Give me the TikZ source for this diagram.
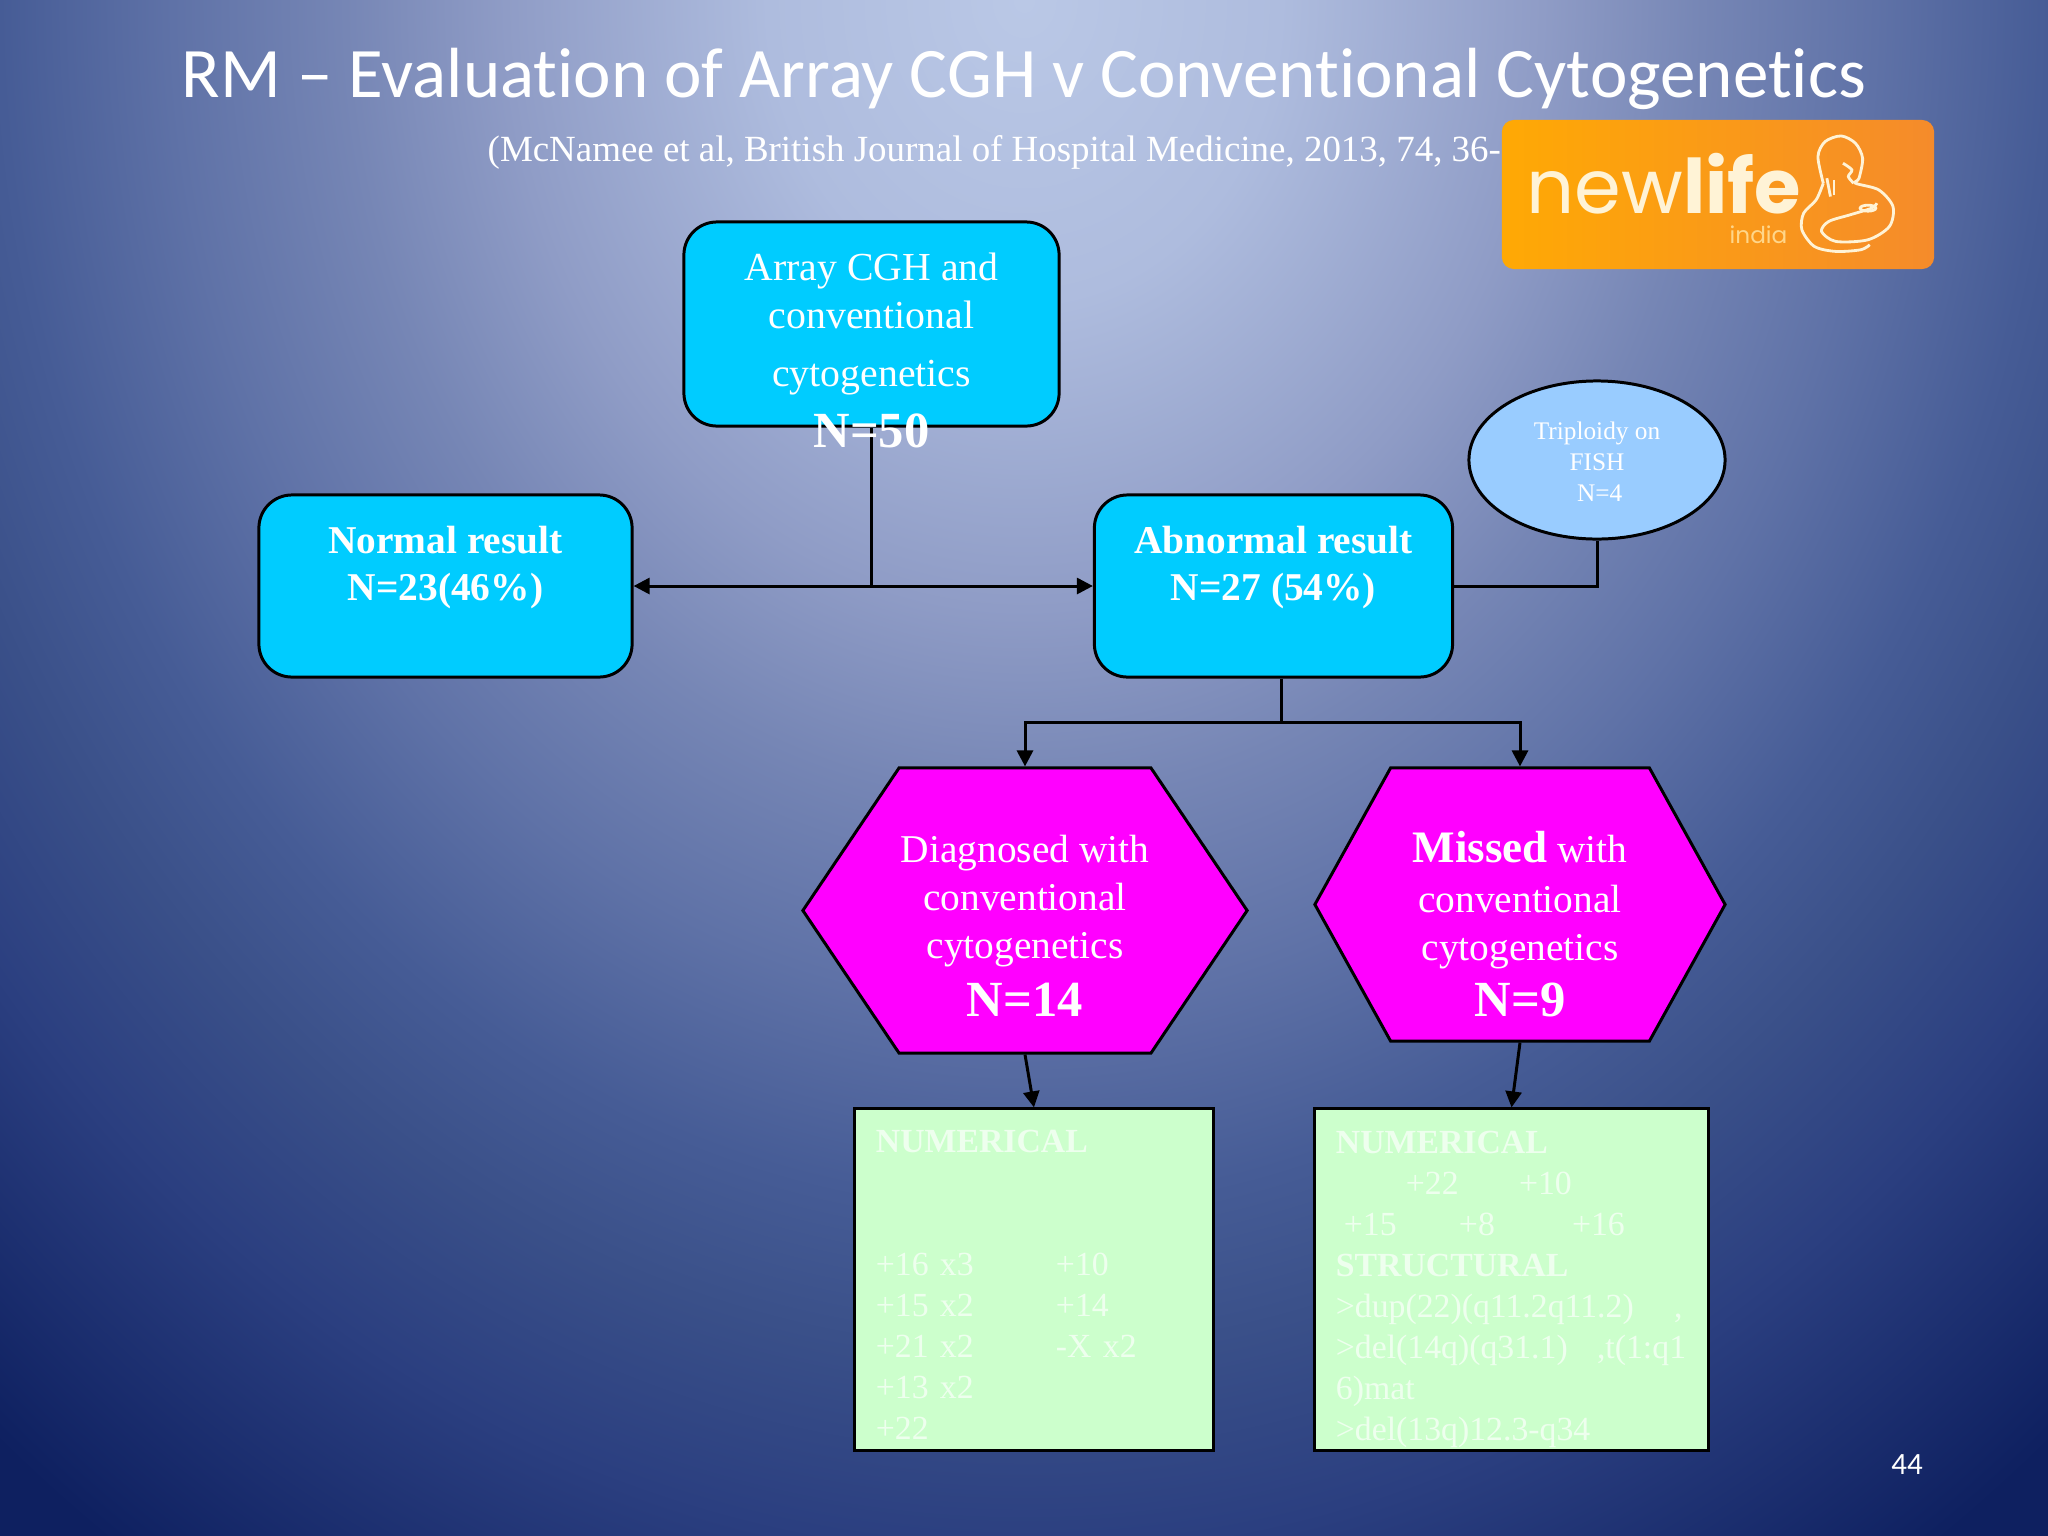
\documentclass[tikz,border=0pt]{standalone}
\usepackage{fontspec}
\setmainfont{Liberation Serif}
\newfontfamily\titlefont[Ligatures=NoCommon]{Carlito}
\newfontfamily\logofont{Poppins}
\usetikzlibrary{arrows.meta,positioning,shapes.geometric,shapes.symbols}
\definecolor{boxcyan}{HTML}{00CCFF}
\definecolor{hexmagenta}{HTML}{FF00FF}
\definecolor{boxgreen}{HTML}{CCFFCC}
\definecolor{greentext}{HTML}{EEFFEE}
\definecolor{ovalblue}{HTML}{99CCFF}
\definecolor{logoa}{HTML}{FFA904}
\definecolor{logob}{HTML}{F58B2B}
\definecolor{logotext}{HTML}{FFF3D6}
\definecolor{logosmall}{HTML}{FFD68A}
\definecolor{bga}{HTML}{BAC8E6}
\definecolor{bgb}{HTML}{AEBCDE}
\definecolor{bgc}{HTML}{8F9CC6}
\definecolor{bgd}{HTML}{7686B5}
\definecolor{bge}{HTML}{5F72A7}
\definecolor{bgf}{HTML}{465C96}
\definecolor{bgg}{HTML}{3A5089}
\definecolor{bgh}{HTML}{2B3F80}
\definecolor{bgi}{HTML}{0E2060}
\pgfdeclareradialshading{slidebg}{\pgfpointorigin}{color(0bp)=(bga); color(4bp)=(bgb); color(8.1bp)=(bgc); color(10.6bp)=(bgd); color(13.3bp)=(bge); color(16bp)=(bgf); color(18bp)=(bgg); color(20.6bp)=(bgh); color(25bp)=(bgi); color(50bp)=(bgi)}
\tikzset{
    cyanbox/.style={draw=black, line width=0.85pt, fill=boxcyan, rounded corners=0.33cm, text=white, align=center, inner sep=0pt, font=\fontsize{11.3}{13.5}\selectfont},
    hexbox/.style={draw=black, line width=0.85pt, fill=hexmagenta, signal, signal to=east and west, text=white, align=center, inner sep=0pt, font=\fontsize{11.2}{13.6}\selectfont},
    greenbox/.style={draw=black, line width=0.85pt, fill=boxgreen, text=greentext, align=left, inner xsep=0.21cm, inner ysep=0pt, font=\fontsize{9.6}{11.66}\selectfont},
    link/.style={draw=black, line width=0.85pt},
    arrowlink/.style={link, -{Triangle[length=0.16cm, width=0.16cm]}}
}
\newcommand{\colto}[2]{\makebox[#1cm][l]{#2}}
\begin{document}
\begin{tikzpicture}[x=0.01cm, y=-0.01cm]
    \useasboundingbox (0,0) rectangle (2048,1536);
    \begin{scope}
        \clip (0,0) rectangle (2048,1536);
        \shade[shading=slidebg] (-576,-1880) rectangle (2624,1880);
    \end{scope}
    \node[text=white, font=\titlefont\fontsize{20.2}{24}\selectfont] (title) at (1024,79) {RM – Evaluation of Array CGH v Conventional Cytogenetics};
    \node[text=white, anchor=west, inner sep=0pt, font=\fontsize{10.5}{12}\selectfont] (source) at (487,152) {(McNamee et al, British Journal of Hospital Medicine, 2013, 74, 36-};
    \node[rounded corners=0.12cm, left color=logoa, right color=logob, minimum width=4.32cm, minimum height=1.49cm, inner sep=0pt] (logo) at (1718,194.5) {};
    \node[text=logotext, anchor=base west, inner sep=0pt, font=\logofont\fontsize{21.4}{23}\selectfont] (logoname) at (1526,213) {new\textbf{life}};
    \node[text=logosmall, anchor=base west, inner sep=0pt, font=\logofont\fontsize{6.6}{7}\selectfont] (logoplace) at (1729,243) {india};
    \begin{scope}[shift={(1400,100)}, x=0.00357cm, y=-0.00333cm, draw=logotext, line width=0.8pt]
        \draw plot[smooth] coordinates {(1185,250) (1170,170) (1190,125) (1235,108) (1275,130) (1295,175) (1285,235) (1275,250) (1340,270) (1380,320) (1370,380) (1310,420) (1220,425) (1180,395) (1200,365) (1260,345) (1320,325) (1335,310)};
        \draw plot[smooth] coordinates {(1185,250) (1165,300) (1130,340) (1125,390) (1160,440) (1220,455) (1290,450) (1315,435)};
        \draw plot[smooth] coordinates {(1195,235) (1205,290)};
        \draw plot[smooth] coordinates {(1215,240) (1215,285)};
        \draw plot[smooth] coordinates {(1240,190) (1265,210) (1255,230) (1270,250)};
        \draw (1310,325) ellipse (22 and 9);
    \end{scope}

    \node[cyanbox, minimum width=3.75cm, minimum height=2.04cm] (top) at (871.5,324) {Array CGH and\\conventional\\[3pt]cytogenetics};
    \node[cyanbox, minimum width=3.73cm, minimum height=1.82cm, font=\bfseries\fontsize{11.2}{13.4}\selectfont] (normal) at (445.5,586) {Normal result\\N=23(46\%)\rule[-13pt]{0pt}{0pt}};
    \node[cyanbox, minimum width=3.58cm, minimum height=1.82cm, right of=normal, node distance=8.275cm, font=\bfseries\fontsize{11.2}{13.4}\selectfont] (abnormal) {Abnormal result\\N=27 (54\%)\rule[-13pt]{0pt}{0pt}};
    \node[ellipse, draw=black, line width=0.85pt, fill=ovalblue, text=white, align=center, inner sep=0pt, minimum width=2.56cm, minimum height=1.58cm, font=\fontsize{7.2}{8.8}\selectfont] (triploidy) at (1597,460) {\rule{0pt}{6.2pt}Triploidy on\\FISH\\\hspace*{1.5pt}N=4};
    \node[hexbox, minimum width=4.44cm, minimum height=2.85cm, signal pointer angle=112] (diagnosed) at (1025,910.5) {\rule{0pt}{16.5pt}Diagnosed with\\conventional\\cytogenetics\\[2.8pt]\textbf{\fontsize{14.4}{16}\selectfont N=14}};
    \node[hexbox, minimum width=4.10cm, minimum height=2.73cm, signal pointer angle=122] (missed) at (1520,904.5) {\rule{0pt}{20pt}\textbf{\fontsize{12.8}{14}\selectfont Missed} with\\[0.7pt]conventional\\cytogenetics\\[2.4pt]\textbf{\fontsize{14.4}{16}\selectfont N=9}};
    \node[greenbox, minimum width=3.58cm, minimum height=3.41cm, text width=3.16cm] (numeric) at (1034,1279.5) {\rule{0pt}{9.5pt}\textbf{NUMERICAL}\\~\\~\\\colto{1.80}{+16 x3}+10\\\colto{1.80}{+15 x2}+14\\\colto{1.80}{+21 x2}-X x2\\+13 x2\\+22};
    \node[greenbox, minimum width=3.93cm, minimum height=3.41cm, text width=3.51cm] (structural) at (1511.5,1279.5) {\rule{0pt}{12pt}\textbf{NUMERICAL}\\\hspace*{0.70cm}\colto{1.13}{+22}+10\\\hspace*{0.08cm}\colto{1.15}{+15}\colto{1.13}{+8}+16\\\textbf{STRUCTURAL}\\\colto{3.38}{>dup(22)(q11.2q11.2)},\\\colto{2.61}{>del(14q)(q31.1)},t(1:q1\\6)mat\\>del(13q)12.3-q34};

    \coordinate (split) at (top.south |- normal.east);
    \coordinate (fork) at (1281,722);
    \coordinate (forkstart) at (fork |- abnormal.south);
    \draw[link] (top.south) -- (split);
    \draw[arrowlink] (split) -- (normal.east);
    \draw[arrowlink] (split) -- (abnormal.west);
    \draw[link] (abnormal.east) -| (triploidy.south);
    \draw[link] (forkstart) -- (fork);
    \draw[arrowlink] (fork) -| (diagnosed.north);
    \draw[arrowlink] (fork) -| (missed.north);
    \draw[arrowlink] (diagnosed.south) -- (numeric.north);
    \draw[arrowlink] (missed.south) -- (structural.north);
    \node[text=white, font=\bfseries\fontsize{14.4}{16}\selectfont] (count) at (871.5,431) {N=50};
    \node[text=white, font=\titlefont\fontsize{8.8}{10}\selectfont] (page) at (1907,1465) {44};
\end{tikzpicture}
\end{document}
